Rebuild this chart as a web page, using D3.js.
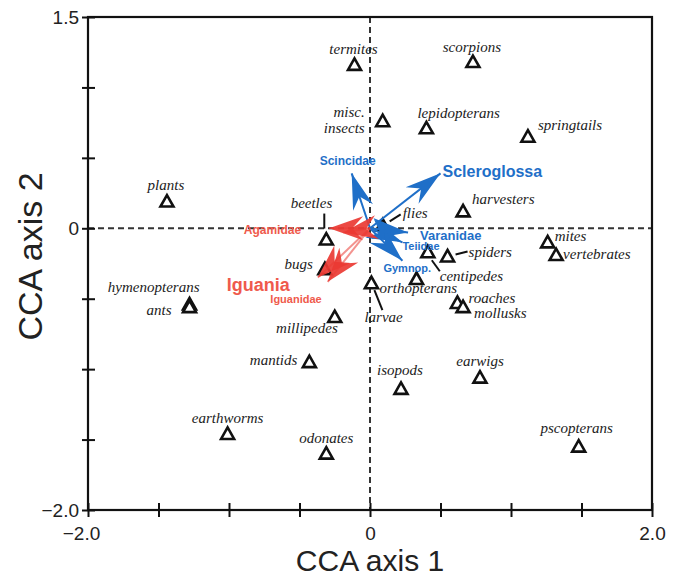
<!DOCTYPE html>
<html>
<head>
<meta charset="utf-8">
<script src="https://cdn.jsdelivr.net/npm/d3@7"></script>
<style>
  body { margin: 0; background: #fff; }
  svg { display: block; }
</style>
</head>
<body>
<script>
// prey categories (triangles)
const taxa = ['termites', 'scorpions', 'misc. insects', 'lepidopterans', 'springtails', 'plants',
  'harvesters', 'flies', 'beetles', 'mites', 'vertebrates', 'spiders', 'centipedes', 'bugs',
  'orthopterans', 'larvae', 'hymenopterans', 'ants', 'roaches', 'mollusks', 'millipedes',
  'mantids', 'earwigs', 'isopods', 'earthworms', 'pscopterans', 'odonates'];
const axis1 = [-0.11, 0.73, 0.09, 0.40, 1.12, -1.44, 0.66, 0.09, -0.31, 1.26, 1.32, 0.55, 0.41, -0.32,
  0.33, 0.01, -1.28, -1.28, 0.62, 0.66, -0.25, -0.43, 0.78, 0.22, -1.01, 1.48, -0.31];
const axis2 = [1.16, 1.18, 0.76, 0.71, 0.65, 0.19, 0.12, 0.02, -0.08, -0.10, -0.19, -0.20, -0.17, -0.29,
  -0.36, -0.39, -0.54, -0.56, -0.53, -0.56, -0.63, -0.95, -1.06, -1.14, -1.46, -1.55, -1.60];

// lizard clades (arrows)
const clades = ['Scleroglossa', 'Scincidae', 'Varanidae', 'Teiidae', 'Gymnop.',
  'Agamidae', '', 'Iguania', 'Iguanidae'];
const cladeAxis1 = [0.50, -0.13, 0.27, 0.23, 0.23, -0.29, -0.19, -0.37, -0.30];
const cladeAxis2 = [0.39, 0.39, -0.03, -0.10, -0.23, 0.00, -0.03, -0.35, -0.38];
const cladeGroup = ['S', 'S', 'S', 'S', 'S', 'I', 'I', 'I', 'I'];

const xTickLabels = [-2, 0, 2];
const yTickLabels = [1.5, 0, -2];

const width = 680, height = 576;
const margin = { top: 17, right: 28, bottom: 66, left: 88 };

// label placement: [dx, dy, anchor] from the triangle centre
const labelPos = {
  'termites': [-1, -11, 'middle'], 'scorpions': [-1, -10, 'middle'],
  'lepidopterans': [-9, -10, 'start'], 'springtails': [10, -7, 'start'],
  'plants': [-1, -12, 'middle'], 'harvesters': [9, -7, 'start'],
  'flies': [20, -7, 'start'], 'beetles': [6, -32, 'end'], 'mites': [7, -1, 'start'],
  'vertebrates': [7, 4, 'start'], 'spiders': [21, 1, 'start'], 'centipedes': [12, 29, 'start'],
  'bugs': [-12, 0, 'end'], 'orthopterans': [-37, 14, 'start'], 'larvae': [-7, 39, 'start'],
  'hymenopterans': [10, -12, 'end'], 'ants': [-18, 8, 'end'], 'roaches': [11, 0, 'start'],
  'mollusks': [11, 11, 'start'], 'millipedes': [3, 16, 'end'], 'mantids': [-12, 3, 'end'],
  'earwigs': [0, -12, 'middle'], 'isopods': [-1, -14, 'middle'], 'earthworms': [0, -11, 'middle'],
  'pscopterans': [-2, -14, 'middle'], 'odonates': [0, -11, 'middle']
};
// leader lines [x1, y1, x2, y2] from the triangle centre
const leaders = {
  'flies': [7, -4, 18, -11], 'beetles': [-2, -26, -2, -11], 'spiders': [8, -2, 20, -5],
  'centipedes': [4, 8, 12, 19], 'larvae': [3, 7, 11, 27]
};
// clade labels: [dx, dy, anchor, size] from the arrow tip
const cladeLabelPos = {
  'Scleroglossa': [2, 4, 'start', 16], 'Scincidae': [-4, -8, 'middle', 12],
  'Varanidae': [12, 7, 'start', 13], 'Teiidae': [0, 8, 'start', 11], 'Gymnop.': [-19, 11, 'start', 11],
  'Agamidae': [-28, 6, 'end', 12], 'Iguania': [-28, 13, 'end', 18], 'Iguanidae': [-6, 21, 'end', 11]
};

const blue = '#1f6fc8', red = '#ea3a33';

// scales
let x = d3.scaleLinear().domain([-2, 2]).range([margin.left, width - margin.right]);
let y = d3.scaleLinear().domain([-2, 1.5]).range([height - margin.bottom, margin.top]);

const fmt = d => d === 0 ? '0' : d3.format('.1f')(d);

const svg = d3.select('body').append('svg')
  .attr('width', width)
  .attr('height', height);

// dashed zero lines
svg.append('line')
  .attr('x1', x(-2)).attr('x2', x(2)).attr('y1', y(0)).attr('y2', y(0))
  .attr('stroke', '#333').attr('stroke-width', 2).attr('stroke-dasharray', '6,4');
svg.append('line')
  .attr('x1', x(0)).attr('x2', x(0)).attr('y1', y(1.5)).attr('y2', y(-2))
  .attr('stroke', '#333').attr('stroke-width', 2).attr('stroke-dasharray', '6,4');

// frame
svg.append('rect')
  .attr('x', x(-2)).attr('y', y(1.5))
  .attr('width', x(2) - x(-2)).attr('height', y(-2) - y(1.5))
  .attr('fill', 'none').attr('stroke', '#111').attr('stroke-width', 2.2);

// axes
let xAxis = g => g.attr('transform', `translate(0, ${y(-2)})`)
  .call(d3.axisBottom(x).tickValues(d3.range(-2, 2.01, 0.5)).tickSize(7).tickPadding(10)
    .tickFormat(d => xTickLabels.includes(d) ? fmt(d) : ''))
  .call(g => g.select('.domain').remove())
  .call(g => g.selectAll('.tick line').attr('y1', -7).attr('stroke', '#111').attr('stroke-width', 2))
  .call(g => g.selectAll('.tick text').attr('font-size', 19).attr('fill', '#222')
    .attr('dx', d => d < 0 ? -7 : 0)
    .attr('font-family', 'Liberation Sans, Arial, sans-serif'));
let yAxis = g => g.attr('transform', `translate(${x(-2)}, 0)`)
  .call(d3.axisLeft(y).tickValues(d3.range(-2, 1.51, 0.5)).tickSize(6).tickPadding(3)
    .tickFormat(d => yTickLabels.includes(d) ? fmt(d) : ''))
  .call(g => g.select('.domain').remove())
  .call(g => g.selectAll('.tick line').attr('x1', 7).attr('stroke', '#111').attr('stroke-width', 2))
  .call(g => g.selectAll('.tick text').attr('font-size', 19).attr('fill', '#222')
    .attr('font-family', 'Liberation Sans, Arial, sans-serif'));

svg.append('g').call(xAxis);
svg.append('g').call(yAxis);

// axis titles
svg.append('text')
  .attr('x', x(0)).attr('y', 571)
  .attr('text-anchor', 'middle')
  .attr('font-family', 'Liberation Sans, Arial, sans-serif')
  .attr('font-size', 30).attr('fill', '#222')
  .text('CCA axis 1');
svg.append('text')
  .attr('transform', `translate(42, ${y(-0.2)}) rotate(-90)`)
  .attr('text-anchor', 'middle')
  .attr('font-family', 'Liberation Sans, Arial, sans-serif')
  .attr('font-size', 34).attr('fill', '#222')
  .text('CCA axis 2');

const points = taxa.map((name, i) => ({ name, a1: axis1[i], a2: axis2[i] }));
const arrows = clades.map((name, i) => ({ name, a1: cladeAxis1[i], a2: cladeAxis2[i], group: cladeGroup[i] }));

// leader lines
svg.append('g')
  .selectAll('line')
  .data(points.filter(d => leaders[d.name]))
  .join('line')
  .attr('x1', d => x(d.a1) + leaders[d.name][0])
  .attr('y1', d => y(d.a2) + leaders[d.name][1])
  .attr('x2', d => x(d.a1) + leaders[d.name][2])
  .attr('y2', d => y(d.a2) + leaders[d.name][3])
  .attr('stroke', '#111').attr('stroke-width', 2);

// triangles
svg.append('g')
  .selectAll('path')
  .data(points)
  .join('path')
  .attr('transform', d => `translate(${x(d.a1)}, ${y(d.a2)})`)
  .attr('d', 'M0,-6.5L6.5,5L-6.5,5Z')
  .attr('fill', '#fff')
  .attr('stroke', '#111')
  .attr('stroke-width', 2.6)
  .attr('stroke-linejoin', 'miter');

// prey labels
const labels = svg.append('g')
  .attr('font-family', 'Liberation Serif, Times New Roman, serif')
  .attr('font-style', 'italic')
  .attr('font-size', 15)
  .attr('fill', '#222');
labels.selectAll('text')
  .data(points.filter(d => labelPos[d.name]))
  .join('text')
  .attr('x', d => x(d.a1) + labelPos[d.name][0])
  .attr('y', d => y(d.a2) + labelPos[d.name][1])
  .attr('text-anchor', d => labelPos[d.name][2])
  .text(d => d.name);
// two-line label
const misc = points.find(d => d.name === 'misc. insects');
labels.append('text')
  .attr('x', x(misc.a1) - 18).attr('y', y(misc.a2) - 4)
  .attr('text-anchor', 'end')
  .call(t => t.append('tspan').text('misc.'))
  .call(t => t.append('tspan').attr('x', x(misc.a1) - 18).attr('dy', 16).text('insects'));

// arrow heads with barbs
const head = d => {
  const x0 = x(0), y0 = y(0), x1 = x(d.a1), y1 = y(d.a2);
  const len = Math.hypot(x1 - x0, y1 - y0);
  const ux = (x1 - x0) / len, uy = (y1 - y0) / len;
  const L = d.group === 'I' ? 34 : 36, W = d.group === 'I' ? 12 : 10.5;
  const bx = x1 - ux * L, by = y1 - uy * L;
  const nx = x1 - ux * L * 0.68, ny = y1 - uy * L * 0.68;
  return `M${x1},${y1}L${bx - uy * W},${by + ux * W}L${nx},${ny}L${bx + uy * W},${by - ux * W}Z`;
};

const arrowG = svg.append('g');
arrowG.selectAll('line')
  .data(arrows)
  .join('line')
  .attr('x1', x(0)).attr('y1', y(0))
  .attr('x2', d => x(d.a1)).attr('y2', d => y(d.a2))
  .attr('stroke', d => d.group === 'S' ? blue : red)
  .attr('stroke-opacity', d => d.group === 'S' ? 1 : 0.55)
  .attr('stroke-width', 2);
arrowG.selectAll('path')
  .data(arrows)
  .join('path')
  .attr('d', head)
  .attr('fill', d => d.group === 'S' ? blue : red)
  .attr('fill-opacity', d => d.group === 'S' ? 1 : 0.92);

// clade labels
svg.append('g')
  .attr('font-family', 'Liberation Sans, Arial, sans-serif')
  .attr('font-weight', 'bold')
  .selectAll('text')
  .data(arrows.filter(d => cladeLabelPos[d.name]))
  .join('text')
  .attr('x', d => x(d.a1) + cladeLabelPos[d.name][0])
  .attr('y', d => y(d.a2) + cladeLabelPos[d.name][1])
  .attr('text-anchor', d => cladeLabelPos[d.name][2])
  .attr('font-size', d => cladeLabelPos[d.name][3])
  .attr('fill', d => d.group === 'S' ? blue : '#ef5a4c')
  .text(d => d.name);
</script>
</body>
</html>
